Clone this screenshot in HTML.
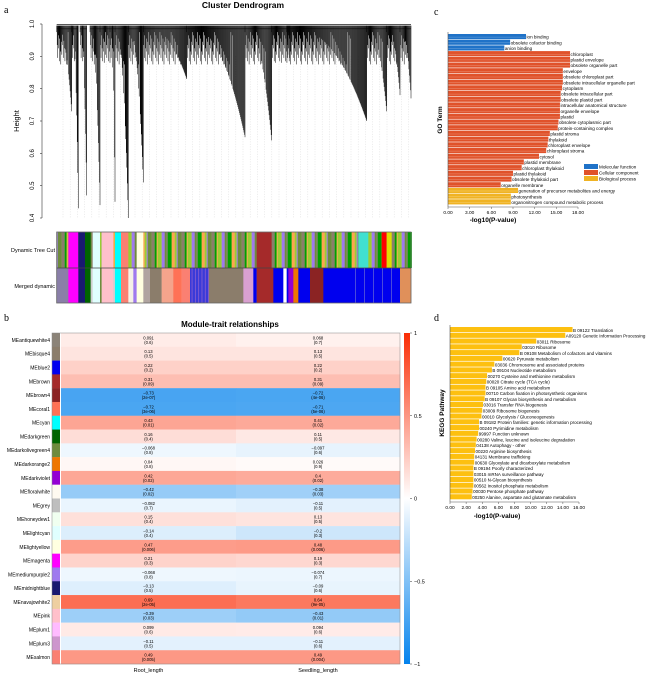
<!DOCTYPE html>
<html><head><meta charset="utf-8"><style>
body{margin:0;background:#fff;}
svg{display:block;font-family:"Liberation Sans",sans-serif;}
</style></head><body>
<svg id="root" width="669" height="676" viewBox="0 0 669 676">
<text x="4" y="13" font-family="Liberation Serif,serif" font-size="10">a</text>
<text x="4" y="321" font-family="Liberation Serif,serif" font-size="10">b</text>
<text x="434" y="15" font-family="Liberation Serif,serif" font-size="10">c</text>
<text x="434" y="321" font-family="Liberation Serif,serif" font-size="10">d</text>
<g id="pa"></g>
<g id="pb"></g>
<g id="pc"></g>
<g id="pd"></g>
</svg>
<script>
const NS="http://www.w3.org/2000/svg";
function mk(p,t,a,txt){const e=document.createElementNS(NS,t);for(const k in a)e.setAttribute(k,a[k]);if(txt!==undefined)e.textContent=txt;p.appendChild(e);return e;}

/* ---------- Panel a: dendrogram ---------- */
const clusterStart=[170,215,240,270,300,330,345,385,430,560,735,815,860,1100,1160,1200];
const clusterEnd=[215,235,260,300,330,345,385,430,560,735,815,870,1100,1160,1200,1233];
const clusterMin=[0.73,0.43,0.47,0.44,0.88,0.45,0.40,0.51,0.83,0.65,0.64,0.88,0.70,0.73,0.78,0.77];
const heightTicks=[0.4,0.5,0.6,0.7,0.8,0.9,1.0];
const pa=document.getElementById('pa');
const hY=h=>24+(1-h)/0.6*194;
const dx=x=>x/3;
mk(pa,'text',{x:243,y:8,'font-size':8.5,'font-weight':'bold','text-anchor':'middle'},'Cluster Dendrogram');
mk(pa,'line',{x1:42,y1:hY(1),x2:42,y2:hY(0.4),stroke:'#333','stroke-width':0.6});
heightTicks.forEach(t=>{
 mk(pa,'line',{x1:40,x2:42,y1:hY(t),y2:hY(t),stroke:'#333','stroke-width':0.6});
 const tx=mk(pa,'text',{x:0,y:0,'font-size':6,'text-anchor':'middle',transform:`translate(34,${hY(t)}) rotate(-90)`},t.toFixed(1));
 
 
});
mk(pa,'text',{x:0,y:0,'font-size':7.5,'text-anchor':'middle',transform:`translate(19,${hY(0.7)}) rotate(-90)`},'Height');
for(let x=63;x<410;x+=7.2){mk(pa,'line',{x1:x,x2:x,y1:hY(0.9),y2:hY(0.4),stroke:'#bbb','stroke-width':0.3,'stroke-dasharray':'1,1.5'});}
mk(pa,'line',{x1:dx(170),x2:dx(1233),y1:hY(0.998),y2:hY(0.998),stroke:'#222','stroke-width':0.8});
let d='';
clusterStart.forEach((s,i)=>{
 const x0=dx(s),x1=dx(clusterEnd[i]),mn=clusterMin[i];
 const n=Math.max(2,Math.round((x1-x0)*2));
 for(let k=0;k<n;k++){
  const f=k/(n-1);
  const x=x0+(x1-x0)*f;
  const jitter=0.10*((k*37)%11)/10;
  let h=0.975-jitter;
  if(mn<0.86){const tail=0.99-(0.99-mn)*Math.pow(f,2.5);if(tail<h&&(k%3!==1||f>0.8))h=tail;}
  else{h=Math.max(mn,h);}
  d+=`M${x.toFixed(2)} ${hY(0.995).toFixed(1)}V${hY(h).toFixed(1)}`;
 }
 mk(pa,'line',{x1:x0,x2:x1,y1:hY(0.985),y2:hY(0.985),stroke:'#222','stroke-width':0.6});
});
mk(pa,'path',{d:d,stroke:'#000','stroke-width':0.5,fill:'none'});
const mergedSegX=[170,205,235,255,272,278,300,305,340,345,363,385,400,410,430,450,485,520,545,570,625,730,760,770,820,850,860,865,880,895,930,970,1200,1233];
const mergedSegC=['#8a7fa8','#ff00ff','#191970','#006400','#cfcfcf','#e0ffff','#6e8b3d','#ffc0cb','#cfcfcf','#00ffff','#fa8072','#f5f0e6','#9f79ee','#ffffe0','#b0a4a0','#8b7d6b','#f4a48c','#ff7256','#fa8072','#3a3ad8','#8b7d6b','#d9a0d0','#0000ee','#a52a2a','#0000ee','#ffffff','#0000ee','#9400d3','#ee7600','#0000ee','#8b2323','#0000ee','#e0905a'];
const dynPalette=['#9f79ee','#90ee90','#cd96cd','#6e8b3d','#eecfa1','#87ceeb','#8b7d6b','#ffbbff','#66cdaa','#00a000','#fa8072','#7a67ee','#ffa54f','#b0c4de','#cd5c5c','#9acd32','#4682b4','#dda0dd'];
const pal=document.getElementById('pa');
const dynG=mk(pal,'g',{});
let pi=0;
for(let x=dx(170);x<dx(1233);){const w=1+((pi*5)%4);mk(dynG,'rect',{x:x,y:232,width:w+0.2,height:36,fill:dynPalette[pi%dynPalette.length]});x+=w;pi+=3;}
const dynOver=[[205,235,'#ff00ff'],[235,255,'#191970'],[255,272,'#006400'],[278,300,'#e0ffff'],[305,340,'#ffc0cb'],[345,363,'#00ffff'],[363,385,'#fa8072'],[410,430,'#ffffe0'],[770,815,'#a52a2a'],[1075,1105,'#40e0d0'],[1145,1160,'#ff0000'],[1160,1175,'#dede00']];
dynOver.forEach(o=>mk(dynG,'rect',{x:dx(o[0]),y:232,width:dx(o[1])-dx(o[0]),height:36,fill:o[2]}));
const mG=mk(pal,'g',{});
mergedSegC.forEach((c,i)=>mk(mG,'rect',{x:dx(mergedSegX[i]),y:268,width:dx(mergedSegX[i+1])-dx(mergedSegX[i])+0.2,height:35,fill:c}));
for(let x=dx(575);x<dx(625);x+=3.3)mk(mG,'rect',{x:x,y:268,width:0.8,height:35,fill:'#8a5fd0'});
for(let x=dx(1065);x<dx(1200);x+=9)mk(mG,'rect',{x:x,y:268,width:0.8,height:35,fill:'#5b5bd8'});
mk(pal,'rect',{x:dx(170),y:232,width:dx(1233)-dx(170),height:71,fill:'none',stroke:'#666','stroke-width':0.8});
mk(pal,'line',{x1:dx(170),x2:dx(1233),y1:268,y2:268,stroke:'#444','stroke-width':0.8});
mk(pal,'text',{x:55,y:252,'font-size':5.5,'text-anchor':'end'},'Dynamic Tree Cut');
mk(pal,'text',{x:55,y:288,'font-size':5.5,'text-anchor':'end'},'Merged dynamic');

/* ---------- Panel b: heatmap ---------- */
const modules=['antiquewhite4','bisque4','blue2','brown','brown4','coral1','cyan','darkgreen','darkolivegreen4','darkorange2','darkviolet','floralwhite','grey','honeydew1','lightcyan','lightyellow','magenta','mediumpurple2','midnightblue','navajowhite2','pink','plum1','plum3','salmon'];
const moduleColors=['#8b8378','#8b7d6b','#0000ee','#a52a2a','#8b2323','#ff7256','#00ffff','#006400','#6e8b3d','#ee7600','#9400d3','#fffaf0','#bebebe','#f0fff0','#e0ffff','#ffffe0','#ff00ff','#9f79ee','#191970','#eecfa1','#ffc0cb','#ffbbff','#cd96cd','#fa8072'];
const rootCor=[0.091,0.13,0.22,0.31,-0.73,-0.72,0.43,0.16,-0.068,0.04,0.42,-0.42,-0.082,0.15,-0.14,0.47,0.21,-0.068,-0.13,0.69,-0.39,0.099,-0.11,0.49];
const rootP=['0.6','0.5','0.2','0.09','2e-07','3e-06','0.01','0.4','0.8','0.8','0.02','0.02','0.7','0.4','0.4','0.006','0.3','0.8','0.5','2e-05','0.03','0.6','0.5','0.005'];
const seedCor=[0.068,0.13,0.22,0.31,-0.72,-0.71,0.41,0.11,-0.097,0.026,0.4,-0.38,-0.11,0.13,-0.2,0.48,0.19,-0.074,-0.09,0.64,-0.43,0.094,-0.11,0.49];
const seedP=['0.7','0.5','0.2','0.09','4e-06','5e-06','0.02','0.5','0.6','0.9','0.02','0.03','0.5','0.5','0.3','0.006','0.3','0.7','0.6','9e-05','0.01','0.6','0.6','0.004'];
const traits=['Root_length','Seedling_length'];
const legendTicks=[1,0.5,0,-0.5,-1];
const pb=document.getElementById('pb');
const hx0=61,hx1=400,hy0=333,hy1=664,rowH=(hy1-hy0)/modules.length;
const colX=[61,236,400];
function corColor(v){const a=Math.min(1,Math.abs(v));const t=v>=0?[250,45,5]:[4,131,237];return `rgb(${[0,1,2].map(i=>Math.round(255+(t[i]-255)*a)).join(',')})`;}
mk(pb,'text',{x:230,y:327,'font-size':8,'font-weight':'bold','text-anchor':'middle'},'Module-trait relationships');
const corArr=[rootCor,seedCor],pArr=[rootP,seedP];
modules.forEach((m,i)=>{
 const y=hy0+i*rowH;
 const lab=mk(pb,'text',{x:50,y:y+rowH/2+2,'font-size':5,'text-anchor':'end'},'ME'+m);
 
 
 const sw=mk(pb,'rect',{x:52,y:y,width:8,height:rowH+0.2,fill:moduleColors[i]});
 
 
 for(let c=0;c<2;c++){
  const cell=mk(pb,'rect',{x:colX[c],y:y,width:colX[c+1]-colX[c]+0.2,height:rowH+0.2,fill:corColor(corArr[c][i])});
  
  
  const cx=(colX[c]+colX[c+1])/2;
  const v=corArr[c][i];
  mk(pb,'text',{x:cx,y:y+rowH/2-0.5,'font-size':4.2,'text-anchor':'middle'},(v<0?'\u2212'+Math.abs(v):String(v)));
  mk(pb,'text',{x:cx,y:y+rowH/2+4,'font-size':4.2,'text-anchor':'middle'},'('+pArr[c][i]+')');
 }
});
mk(pb,'rect',{x:52,y:hy0,width:348,height:hy1-hy0,fill:'none',stroke:'#888','stroke-width':0.5});
traits.forEach((t,c)=>{const e=mk(pb,'text',{x:(colX[c]+colX[c+1])/2,y:672,'font-size':5.5,'text-anchor':'middle'},t);});
const defs=mk(document.getElementById('root'),'defs',{});
const lg=mk(defs,'linearGradient',{id:'cg',x1:0,y1:0,x2:0,y2:1});
[[0,corColor(1)],[0.5,'#fff'],[1,corColor(-1)]].forEach(s=>mk(lg,'stop',{offset:s[0],'stop-color':s[1]}));
mk(pb,'rect',{x:404,y:hy0,width:6,height:hy1-hy0,fill:'url(#cg)'});
legendTicks.forEach(t=>{const y=hy0+(1-t)/2*(hy1-hy0);mk(pb,'line',{x1:410,x2:412,y1:y,y2:y,stroke:'#333','stroke-width':0.5});const e=mk(pb,'text',{x:414,y:y+2,'font-size':5.5},(t<0?'\u2212'+Math.abs(t):String(t)));});

/* ---------- Panel c: GO ---------- */
const goTerms=['ion binding','obsolete cofactor binding','anion binding','chloroplast','plastid envelope','obsolete organelle part','envelope','obsolete chloroplast part','obsolete intracellular organelle part','cytoplasm','obsolete intracellular part','obsolete plastid part','intracellular anatomical structure','organelle envelope','plastid','obsolete cytoplasmic part','protein-containing complex','plastid stroma','thylakoid','chloroplast envelope','chloroplast stroma','cytosol','plastid membrane','chloroplast thylakoid','plastid thylakoid','obsolete thylakoid part','organelle membrane','generation of precursor metabolites and energy','photosynthesis','organonitrogen compound metabolic process'];
const goValues=[10.8,8.6,7.8,16.9,16.9,16.9,15.9,15.9,15.9,15.8,15.6,15.6,15.5,15.5,15.5,15.3,15.2,14.1,13.9,13.8,13.6,12.6,10.5,10.2,9.0,8.8,7.3,9.7,8.7,8.7];
const goCat=[0,0,0,1,1,1,1,1,1,1,1,1,1,1,1,1,1,1,1,1,1,1,1,1,1,1,1,2,2,2];
const goCatNames=['Molecular function','Cellular component','Biological process'];
const goTicks=[0,3,6,9,12,15,18];
const catColors=['#1f72c8','#e0522a','#f0b323'];
const pc=document.getElementById('pc');
const cx0=448,cxs=(578-448)/18,cy0=34,cRow=(205-34)/goTerms.length;
const gx=v=>cx0+v*cxs;
goTerms.forEach((t,i)=>{
 const y=cy0+i*cRow;
 const b=mk(pc,'rect',{x:cx0,y:y,width:gx(goValues[i])-cx0,height:cRow-0.6,fill:catColors[goCat[i]]});
 
 
 mk(pc,'rect',{x:cx0,y:y+cRow*0.5,width:gx(goValues[i])-cx0,height:0.5,fill:'rgba(255,255,255,0.35)'});
 mk(pc,'text',{x:gx(goValues[i])+0.5,y:y+cRow-1,'font-size':4.6},t);
});
mk(pc,'line',{x1:cx0,x2:cx0,y1:cy0-2,y2:207,stroke:'#555','stroke-width':0.6});
mk(pc,'line',{x1:cx0,x2:gx(18),y1:207,y2:207,stroke:'#555','stroke-width':0.6});
goTicks.forEach(t=>{mk(pc,'line',{x1:gx(t),x2:gx(t),y1:207,y2:209,stroke:'#555','stroke-width':0.5});const e=mk(pc,'text',{x:gx(t),y:214,'font-size':4.8,'text-anchor':'middle'},t.toFixed(2));});
mk(pc,'text',{x:493,y:222,'font-size':6.5,'font-weight':'bold','text-anchor':'middle'},'-log10(P-value)');
mk(pc,'text',{x:0,y:0,'font-size':6.5,'font-weight':'bold','text-anchor':'middle',transform:'translate(442,120) rotate(-90)'},'GO Term');
goCatNames.forEach((n,i)=>{const y=164+i*6;mk(pc,'rect',{x:584,y:y,width:14,height:5,fill:catColors[i]});const e=mk(pc,'text',{x:599,y:y+4.5,'font-size':4.6},n);});

/* ---------- Panel d: KEGG ---------- */
const keggTerms=['B 09122 Translation','A09120 Genetic Information Processing','03011 Ribosome','03010 Ribosome','B 09108 Metabolism of cofactors and vitamins','00620 Pyruvate metabolism','03036 Chromosome and associated proteins','B 09104 Nucleotide metabolism','00270 Cysteine and methionine metabolism','00020 Citrate cycle (TCA cycle)','B 09105 Amino acid metabolism','00710 Carbon fixation in photosynthetic organisms','B 09107 Glycan biosynthesis and metabolism','03016 Transfer RNA biogenesis','03009 Ribosome biogenesis','00010 Glycolysis / Gluconeogenesis','B 09182 Protein families: genetic information processing','00240 Pyrimidine metabolism','99997 Function unknown','00280 Valine, leucine and isoleucine degradation','04138 Autophagy - other','00220 Arginine biosynthesis','04131 Membrane trafficking','00630 Glyoxylate and dicarboxylate metabolism','B 09194 Poorly characterized','03015 mRNA surveillance pathway','00510 N-Glycan biosynthesis','00562 Inositol phosphate metabolism','00030 Pentose phosphate pathway','00250 Alanine, aspartate and glutamate metabolism'];
const keggValues=[15.2,14.3,10.7,8.9,8.6,6.5,5.5,5.2,4.6,4.5,4.4,4.4,4.3,4.1,4.0,3.9,3.6,3.6,3.5,3.3,3.2,3.1,3.0,3.0,2.9,2.9,2.9,2.9,2.8,2.7];
const keggTicks=[0,2,4,6,8,10,12,14,16];
const pd=document.getElementById('pd');
const dx0=450,dxs=(579-450)/16,dy0=327,dRow=(500-327)/keggTerms.length;
const kx=v=>dx0+v*dxs;
keggTerms.forEach((t,i)=>{
 const y=dy0+i*dRow;
 const b=mk(pd,'rect',{x:dx0,y:y,width:kx(keggValues[i])-dx0,height:dRow-0.7,fill:'#fdc010'});
 
 
 mk(pd,'text',{x:kx(keggValues[i])+0.5,y:y+dRow-1,'font-size':4.5},t);
});
mk(pd,'line',{x1:dx0,x2:dx0,y1:dy0-2,y2:502,stroke:'#555','stroke-width':0.6});
mk(pd,'line',{x1:dx0,x2:kx(16),y1:502,y2:502,stroke:'#555','stroke-width':0.6});
keggTicks.forEach(t=>{mk(pd,'line',{x1:kx(t),x2:kx(t),y1:502,y2:504,stroke:'#555','stroke-width':0.5});const e=mk(pd,'text',{x:kx(t),y:509,'font-size':4.8,'text-anchor':'middle'},t.toFixed(2));});
mk(pd,'text',{x:497,y:518,'font-size':6.5,'font-weight':'bold','text-anchor':'middle'},'-log10(P-value)');
mk(pd,'text',{x:0,y:0,'font-size':6.5,'font-weight':'bold','text-anchor':'middle',transform:'translate(444,413) rotate(-90)'},'KEGG Pathway');
</script>
</body></html>
